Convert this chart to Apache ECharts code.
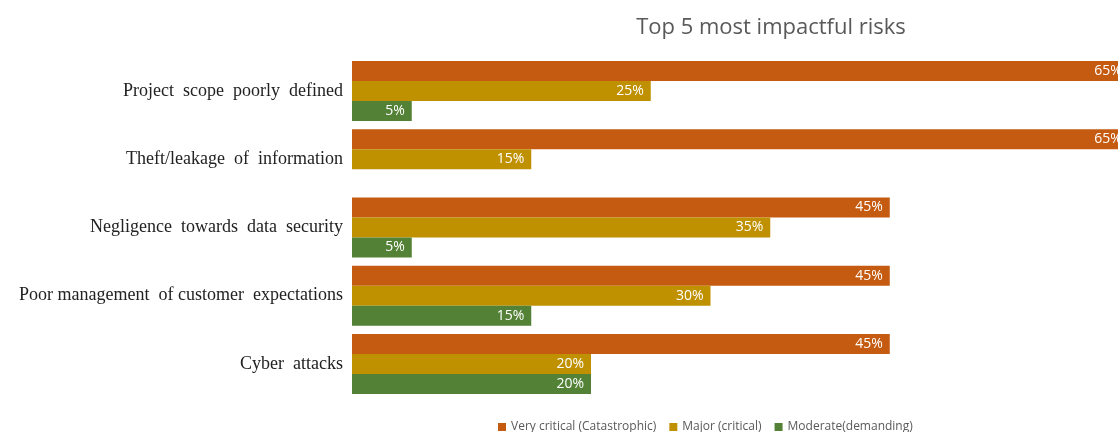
<!DOCTYPE html>
<html>
<head>
<meta charset="utf-8">
<script src="https://cdn.jsdelivr.net/npm/echarts@6/dist/echarts.min.js"></script>
<style>
  html, body { margin: 0; padding: 0; background: #fff; }
  #chart { width: 1118px; height: 432px; }
</style>
</head>
<body>
<div id="chart"></div>
<script>
  // risk categories, top to bottom
  var risks = [
    'Project  scope  poorly  defined',
    'Theft/leakage  of  information',
    'Negligence  towards  data  security',
    'Poor management  of customer  expectations',
    'Cyber  attacks'
  ];
  var seriesNames = ['Very critical (Catastrophic)', 'Major (critical)', 'Moderate(demanding)'];
  var veryCritical = [65, 65, 45, 45, 45];
  var major = [25, 15, 35, 30, 20];
  var moderate = [5, 0, 5, 15, 20];
  var colors = ['#C55A11', '#BF9000', '#538135'];

  var myChart = echarts.init(document.getElementById('chart'));

  function barSeries(name, data, color) {
    return {
      name: name,
      type: 'bar',
      data: data,
      barWidth: 20,
      barGap: '0%',
      clip: false,
      itemStyle: { color: color },
      label: {
        show: true,
        position: 'insideRight',
        distance: 7,
        color: '#fff',
        fontFamily: 'Open Sans',
        fontSize: 14,
        formatter: '{c}%'
      }
    };
  }

  var option = {
    animation: false,
    title: {
      text: 'Top 5 most impactful risks',
      left: 766,
      top: 12,
      textAlign: 'center',
      textStyle: {
        fontFamily: 'Open Sans',
        fontWeight: 'normal',
        fontSize: 22,
        color: '#595959'
      }
    },
    legend: {
      data: seriesNames,
      left: 498,
      top: 421,
      padding: 0,
      itemWidth: 8,
      itemHeight: 8,
      itemGap: 13,
      icon: 'rect',
      textStyle: {
        fontFamily: 'Open Sans',
        fontSize: 12,
        color: '#595959'
      }
    },
    grid: {
      left: 352,
      top: 57,
      right: 0,
      height: 341,
      containLabel: false
    },
    xAxis: {
      type: 'value',
      min: 0,
      max: 64.1,
      show: false
    },
    yAxis: {
      type: 'category',
      data: risks,
      inverse: true,
      axisLine: { show: false },
      axisTick: { show: false },
      axisLabel: {
        margin: 9,
        fontFamily: 'Liberation Serif',
        fontSize: 18,
        color: '#222'
      }
    },
    series: [
      barSeries(seriesNames[0], veryCritical, colors[0]),
      barSeries(seriesNames[1], major, colors[1]),
      barSeries(seriesNames[2], moderate, colors[2])
    ]
  };
  myChart.setOption(option);
</script>
</body>
</html>
